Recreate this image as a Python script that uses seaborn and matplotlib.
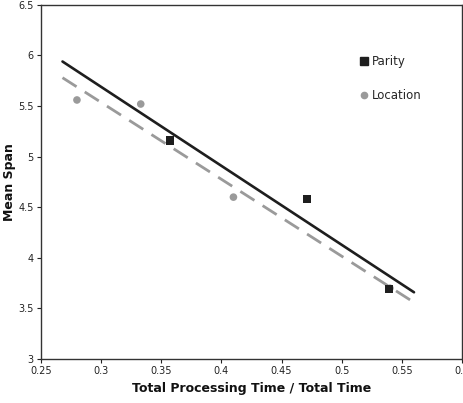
import matplotlib
matplotlib.use("Agg")
import matplotlib.pyplot as plt
import seaborn as sns
import pandas as pd
from matplotlib.lines import Line2D

# Data
parity_x = [0.357, 0.471, 0.539]
parity_y = [5.16, 4.58, 3.69]
location_x = [0.280, 0.333, 0.410, 0.540]
location_y = [5.56, 5.52, 4.60, 3.70]
fit_x = [0.268, 0.560]
parity_fit = [5.94, 3.66]
location_fit = [5.78, 3.56]
x_ticks = [0.25, 0.3, 0.35, 0.4, 0.45, 0.5, 0.55, 0.6]
x_tick_labels = ["0.25", "0.3", "0.35", "0.4", "0.45", "0.5", "0.55", "0.6"]
y_ticks = [3, 3.5, 4, 4.5, 5, 5.5, 6, 6.5]
y_tick_labels = ["3", "3.5", "4", "4.5", "5", "5.5", "6", "6.5"]

sns.set_style("white")
plt.rcParams["font.family"] = ["DejaVu Sans"]

fig = plt.figure(figsize=(4.64, 4.03), dpi=100)
ax = fig.add_axes([0.088, 0.109, 0.908, 0.879])

PAR_C = "#1e1e1e"
LOC_C = "#9a9a9a"

fit_df = pd.DataFrame({"x": fit_x, "parity": parity_fit, "location": location_fit})
sns.lineplot(data=fit_df, x="x", y="location", ax=ax, color=LOC_C, lw=2.0,
             legend=False, zorder=2)
ax.lines[-1].set_dashes([6, 3.5])
sns.lineplot(data=fit_df, x="x", y="parity", ax=ax, color=PAR_C, lw=1.9,
             legend=False, zorder=3)

loc_df = pd.DataFrame({"x": location_x, "y": location_y})
par_df = pd.DataFrame({"x": parity_x, "y": parity_y})
sns.scatterplot(data=loc_df, x="x", y="y", ax=ax, color=LOC_C, marker="o",
                s=30, edgecolor="none", zorder=4)
sns.scatterplot(data=par_df, x="x", y="y", ax=ax, color=PAR_C, marker="s",
                s=34, edgecolor="none", zorder=5)

ax.set_xlim(0.25, 0.6)
ax.set_ylim(3, 6.5)
ax.set_xticks(x_ticks)
ax.set_xticklabels(x_tick_labels)
ax.set_yticks(y_ticks)
ax.set_yticklabels(y_tick_labels)
ax.tick_params(axis="both", labelsize=7, colors="#222222", length=3, width=0.8,
               direction="out", pad=2)
ax.tick_params(axis="x", bottom=True, top=False)
ax.tick_params(axis="y", left=True, right=False)
for sp in ax.spines.values():
    sp.set_color("#333333")
    sp.set_linewidth(1.0)

ax.set_xlabel("Total Processing Time / Total Time", fontsize=9, fontweight="bold",
              color="#111111", labelpad=4)
ax.set_ylabel("Mean Span", fontsize=9, fontweight="bold", color="#111111", labelpad=1.5)

handles = [
    Line2D([], [], marker="s", color=PAR_C, linestyle="none", markersize=5.5),
    Line2D([], [], marker="o", color=LOC_C, linestyle="none", markersize=4.5),
]
ax.legend(handles, ["Parity", "Location"], loc="center left",
          bbox_to_anchor=(0.752, 0.792), frameon=False, fontsize=8.5,
          handletextpad=0.2, labelspacing=1.75, handlelength=1.0, borderpad=0,
          borderaxespad=0)

fig.savefig("out.png", dpi=100)
